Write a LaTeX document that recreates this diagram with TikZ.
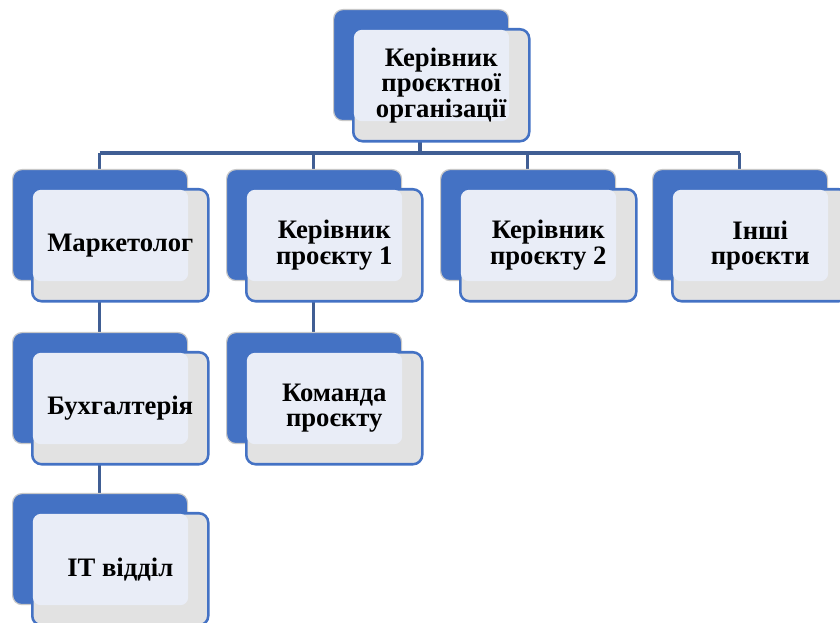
\documentclass[tikz,border=0pt]{standalone}
\usepackage{fontspec}
\setmainfont{Liberation Serif}
\definecolor{backblue}{RGB}{68,114,196}
\definecolor{frontgray}{RGB}{226,226,226}
\definecolor{lightfill}{RGB}{233,237,247}
\definecolor{linecol}{RGB}{64,94,148}
\definecolor{ringgray}{RGB}{200,200,200}
\tikzset{
  backbox/.style={draw=ringgray, line width=0.9pt, fill=backblue, rounded corners=7pt,
    minimum width=175*0.75pt, minimum height=111*0.75pt, anchor=north west, inner sep=0pt},
  frontbox/.style={draw=backblue, line width=1.9pt, fill=frontgray, rounded corners=7pt,
    minimum width=176*0.75pt, minimum height=112*0.75pt, anchor=north west, inner sep=0pt},
  lightpart/.style={fill=lightfill, rounded corners=6pt},
  lbl/.style={font=\bfseries\fontsize{20}{19}\selectfont, align=center, inner sep=0pt},
  conn/.style={draw=linecol, line width=2.4pt},
}
\newcommand{\orgbox}[4]{% name, back x, back y, text
  \node[backbox] (#1B) at (#2,#3) {};
  \node[frontbox] (#1F) at (#2+19,#3+19) {};
  \fill[lightpart] ([xshift=1.4pt,yshift=-1.4pt]#1F.north west) rectangle (#1B.south east);
  \node[lbl] (#1T) at (#1F.center) {#4};
}
\begin{document}
\begin{tikzpicture}[x=0.75pt, y=-0.75pt]
\useasboundingbox (0,0) rectangle (840,623);
\coordinate (bus) at (0,153);
% connectors (drawn first, behind boxes)
\coordinate (topc) at (420,70);
\coordinate (c1) at (99.5,200);
\coordinate (c2) at (313.5,200);
\coordinate (c3) at (527.5,200);
\coordinate (c4) at (739.5,200);
\coordinate (c1b) at (99.5,380);
\coordinate (c1c) at (99.5,540);
\coordinate (c2b) at (313.5,380);
\draw[conn] (topc) -- (topc |- bus);
\draw[conn] (c1 |- bus) -- (c4 |- bus);
\draw[conn] (c1 |- bus) -- (c1);
\draw[conn] (c2 |- bus) -- (c2);
\draw[conn] (c3 |- bus) -- (c3);
\draw[conn] (c4 |- bus) -- (c4);
\draw[conn] (c1) -- (c1b);
\draw[conn] (c1b) -- (c1c);
\draw[conn] (c2) -- (c2b);
% boxes
\orgbox{top}{333}{9}{Керівник\\проєктної\\організації}
\orgbox{mk}{12}{169}{Маркетолог}
\orgbox{kp}{226}{169}{Керівник\\проєкту 1}
\orgbox{kq}{440}{169}{Керівник\\проєкту 2}
\orgbox{in}{652}{169}{Інші\\проєкти}
\orgbox{bu}{12}{332}{Бухгалтерія}
\orgbox{km}{226}{332}{Команда\\проєкту}
\orgbox{it}{12}{493}{IT відділ}
\end{tikzpicture}
\end{document}
